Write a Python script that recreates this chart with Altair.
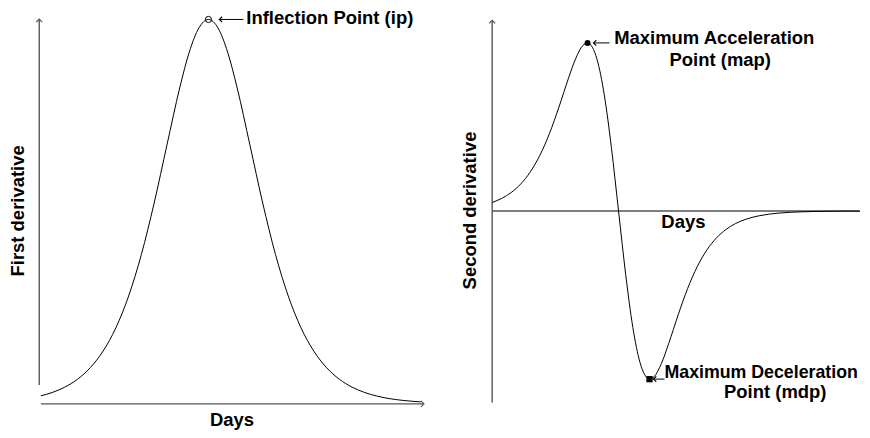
import altair as alt
import pandas as pd

FONT = "Liberation Sans"

# ---------------- data ----------------
# Left panel: first derivative (bell curve)
left_days = [0.5, 4, 8, 12, 16, 20, 24, 28, 32, 36, 40, 44, 47, 50, 53,
             56, 59, 62, 66, 70, 74, 78, 82, 86, 90, 94, 98, 102, 106, 110, 114, 119.5]
left_values = [2.08, 2.94, 4.35, 6.41, 9.42, 13.72, 19.77, 28.05, 38.87, 52.24, 67.32, 82.19, 91.52, 97.78, 100,
               97.78, 91.52, 82.19, 67.32, 52.24, 38.87, 28.05, 19.77, 13.72, 9.42, 6.41, 4.35, 2.94, 1.98, 1.33, 0.89, 0.52]

# Right panel: second derivative
right_days = [0, 4, 8, 12, 16, 20, 24, 28, 32, 35, 38, 40, 42, 44, 47, 50, 53, 56, 59, 62,
              64, 66, 68, 71, 74, 78, 82, 86, 90, 94, 98, 102, 106, 112, 120, 130, 140, 150, 154.2]
right_values = [5.08, 7.51, 11.04, 16.12, 23.29, 33.11, 46.01, 61.80, 78.97, 90.61, 98.44, 99.98, 97.46, 90.10,
                69.26, 37.82, 0, -37.82, -69.26, -90.10, -97.46, -99.98, -98.44, -90.61, -78.97, -61.80, -46.01,
                -33.11, -23.29, -16.12, -11.04, -7.51, -5.08, -2.81, -1.27, -0.47, -0.17, -0.06, -0.04]

# Key points
ip_point = {"day": 53, "value": 100}
map_point = {"day": 40, "value": 100}
mdp_point = {"day": 66, "value": -100}

# Axis line extents (data units)
left_xaxis = {"day": 0.5, "day2": 120.5, "value": 0}
left_yaxis = {"day": 0, "value": 4.9, "value2": 100.1}
right_yaxis = {"day": 0, "value": -113.9, "value2": 113.4}
right_zero = {"day": 0, "day2": 154.2, "value": 0}

# Label anchors (data units)
left_ytitle = {"day": -4.8, "value": 50.2, "label": "First derivative"}
left_xtitle = {"day": 60.4, "value": -5.63, "label": "Days"}
right_ytitle = {"day": -6.95, "value": 0.3, "label": "Second derivative"}
right_xtitle = {"day": 80.2, "value": -10.27, "label": "Days"}

# Scale domains
LEFT_X = [-9.78, 122.09]
LEFT_Y = [-6.67, 102.85]
RIGHT_X = [-26.49, 154.27]
RIGHT_Y = [-129.97, 120.47]

LEFT_W, RIGHT_W, H = 422, 432, 422
AXIS_COLOR = "#555555"
FS = 18.5


def enc(sx, sy, x="day", y="value"):
    return dict(
        x=alt.X(f"{x}:Q", scale=sx, axis=None),
        y=alt.Y(f"{y}:Q", scale=sy, axis=None),
    )


def df(d):
    return pd.DataFrame([d])


def text_layer(point, label, sx, sy, **kw):
    base = dict(font=FONT, fontSize=FS, fontWeight="bold", color="black")
    base.update(kw)
    return alt.Chart(df(point)).mark_text(text=label, **base).encode(**enc(sx, sy))


def title_layer(spec, sx, sy, **kw):
    base = dict(font=FONT, fontSize=FS, fontWeight="bold", color="black",
                align="center", baseline="alphabetic")
    base.update(kw)
    return alt.Chart(df(spec)).mark_text(text=spec["label"], **base).encode(**enc(sx, sy))


def hrule(spec, sx, sy, color=AXIS_COLOR, width=1.4, **kw):
    return alt.Chart(df(spec)).mark_rule(color=color, strokeWidth=width, **kw).encode(
        x=alt.X("day:Q", scale=sx, axis=None),
        x2="day2:Q",
        y=alt.Y("value:Q", scale=sy, axis=None),
    )


def vrule(spec, sx, sy, color=AXIS_COLOR, width=1.4, **kw):
    return alt.Chart(df(spec)).mark_rule(color=color, strokeWidth=width, **kw).encode(
        x=alt.X("day:Q", scale=sx, axis=None),
        y=alt.Y("value:Q", scale=sy, axis=None),
        y2="value2:Q",
    )


CHEV_UP = "M -1 1 L 0 0 L 1 1"
CHEV_RIGHT = "M -1 -1 L 0 0 L -1 1"
CHEV_LEFT = "M 1 -1 L 0 0 L 1 1"


def head(point, shape, sx, sy, color=AXIS_COLOR, size=36, **kw):
    return alt.Chart(df(point)).mark_point(
        shape=shape, filled=False, stroke=color, strokeWidth=1.2, size=size, opacity=1, **kw
    ).encode(**enc(sx, sy))


def pointer(point, x0, x1, sx, sy):
    """Horizontal arrow from the label back to the marked point."""
    shaft = alt.Chart(df(point)).mark_rule(
        color="black", strokeWidth=1, xOffset=x0, x2Offset=x1
    ).encode(
        x=alt.X("day:Q", scale=sx, axis=None),
        x2="day:Q",
        y=alt.Y("value:Q", scale=sy, axis=None),
    )
    tip = head(point, CHEV_LEFT, sx, sy, color="black", size=30, xOffset=x0)
    return shaft + tip


# ---------------- left panel ----------------
sxl = alt.Scale(domain=LEFT_X, nice=False, zero=False)
syl = alt.Scale(domain=LEFT_Y, nice=False, zero=False)

left_curve = alt.Chart(pd.DataFrame({"day": left_days, "value": left_values})).mark_line(
    color="black", strokeWidth=1, interpolate="monotone"
).encode(**enc(sxl, syl))

left = alt.layer(
    hrule(left_xaxis, sxl, syl),
    head({"day": left_xaxis["day2"], "value": 0}, CHEV_RIGHT, sxl, syl),
    vrule(left_yaxis, sxl, syl),
    head({"day": 0, "value": left_yaxis["value2"]}, CHEV_UP, sxl, syl),
    left_curve,
    alt.Chart(df(ip_point)).mark_point(
        shape="circle", filled=False, stroke="black", strokeWidth=1, size=38, opacity=1
    ).encode(**enc(sxl, syl)),
    pointer(ip_point, 11, 35, sxl, syl),
    text_layer(ip_point, "Inflection Point (ip)", sxl, syl, align="left",
               baseline="alphabetic", dx=38, dy=5),
    title_layer(left_ytitle, sxl, syl, angle=270),
    title_layer(left_xtitle, sxl, syl),
).properties(width=LEFT_W, height=H)

# ---------------- right panel ----------------
sxr = alt.Scale(domain=RIGHT_X, nice=False, zero=False)
syr = alt.Scale(domain=RIGHT_Y, nice=False, zero=False)

right_curve = alt.Chart(pd.DataFrame({"day": right_days, "value": right_values})).mark_line(
    color="black", strokeWidth=1, interpolate="monotone"
).encode(**enc(sxr, syr))

right = alt.layer(
    hrule(right_zero, sxr, syr),
    vrule(right_yaxis, sxr, syr),
    head({"day": 0, "value": right_yaxis["value2"]}, CHEV_UP, sxr, syr),
    right_curve,
    alt.Chart(df(map_point)).mark_point(
        shape="circle", filled=True, color="black", size=36, opacity=1
    ).encode(**enc(sxr, syr)),
    alt.Chart(df(mdp_point)).mark_point(
        shape="square", filled=True, color="black", size=40, opacity=1
    ).encode(**enc(sxr, syr)),
    pointer(map_point, 6, 22, sxr, syr),
    pointer(mdp_point, 4, 15, sxr, syr),
    text_layer(map_point, "Maximum Acceleration", sxr, syr, align="center",
               baseline="alphabetic", dx=127, dy=1),
    text_layer(map_point, "Point (map)", sxr, syr, align="center",
               baseline="alphabetic", dx=133, dy=23),
    text_layer(mdp_point, "Maximum Deceleration", sxr, syr, align="left",
               baseline="alphabetic", dx=15, dy=-1, fontSize=17.8),
    text_layer(mdp_point, "Point (mdp)", sxr, syr, align="center",
               baseline="alphabetic", dx=126, dy=19),
    title_layer(right_ytitle, sxr, syr, angle=270),
    title_layer(right_xtitle, sxr, syr),
).properties(width=RIGHT_W, height=H)

chart = alt.hconcat(left, right, spacing=0).properties(
    bounds="flush", padding=0, background="white"
).configure_view(stroke=None)

chart.save("out.html", embed_options={"renderer": "svg", "actions": False})
